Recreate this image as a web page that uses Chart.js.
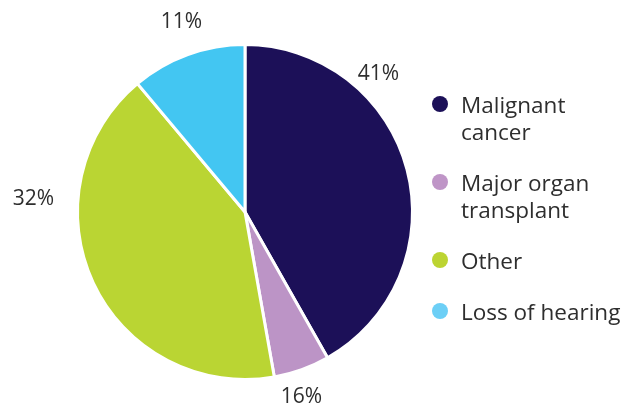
<!DOCTYPE html>
<html>
<head>
<meta charset="utf-8">
<script src="https://cdn.jsdelivr.net/npm/chart.js@4/dist/chart.umd.min.js"></script>
<style>
  body { margin: 0; background: #fff; }
  #wrap { position: relative; width: 626px; height: 406px; }
  #legend { position: absolute; left: 432px; top: 91px; font-family: "Open Sans", sans-serif; font-size: 22.5px; color: #2e2e2e; }
  .item { display: flex; align-items: flex-start; margin-bottom: 24px; line-height: 27px; }
  .dot { width: 16px; height: 16px; border-radius: 50%; margin: 5px 13px 0 0; flex: none; }
</style>
</head>
<body>
<div id="wrap">
  <canvas id="myChart" width="626" height="406"></canvas>
  <div id="legend"></div>
</div>
<script>
// slice sizes as drawn, and the percentage text printed beside them
const categories = [["Malignant", "cancer"], ["Major organ", "transplant"], ["Other"], ["Loss of hearing"]];
const sliceValues = [41.8, 5.4, 41.7, 11.1];
const percentLabels = ["41%", "16%", "32%", "11%"];
const colors = ['#1c1058', '#bc94c6', '#bad533', '#43c6f2'];
const legendColors = ['#1c1058', '#bf95c7', '#bcd432', '#6ccff6'];

// where each percent text sits: angle (deg, clockwise from top) and distance from centre
const labelSpots = [[44, 192], [163, 193], [273.5, 212], [341.5, 200]];

const percentPlugin = {
    id: 'percentText',
    afterDraw(chart) {
        const ctx = chart.ctx;
        const arc = chart.getDatasetMeta(0).data[0];
        ctx.save();
        ctx.font = '21px "Open Sans", sans-serif';
        ctx.fillStyle = '#2e2e2e';
        ctx.textAlign = 'center';
        ctx.textBaseline = 'middle';
        percentLabels.forEach((t, i) => {
            const a = labelSpots[i][0] * Math.PI / 180;
            const r = labelSpots[i][1];
            ctx.fillText(t, arc.x + Math.sin(a) * r, arc.y - Math.cos(a) * r);
        });
        ctx.restore();
    }
};

new Chart(document.getElementById('myChart'), {
    type: 'pie',
    data: {
        labels: categories.map(c => c.join(' ')),
        datasets: [{ data: sliceValues, backgroundColor: colors, borderColor: '#fff', borderWidth: 3 }]
    },
    options: {
        responsive: false,
        animation: false,
        layout: { padding: { left: 76, right: 212, top: 43, bottom: 25 } },
        plugins: { legend: { display: false }, tooltip: { enabled: false } }
    },
    plugins: [percentPlugin]
});

document.getElementById('legend').innerHTML = categories.map((c, i) => `
    <div class="item"><span class="dot" style="background:${legendColors[i]}"></span><span>${c.join('<br>')}</span></div>
`).join('');
</script>
</body>
</html>
